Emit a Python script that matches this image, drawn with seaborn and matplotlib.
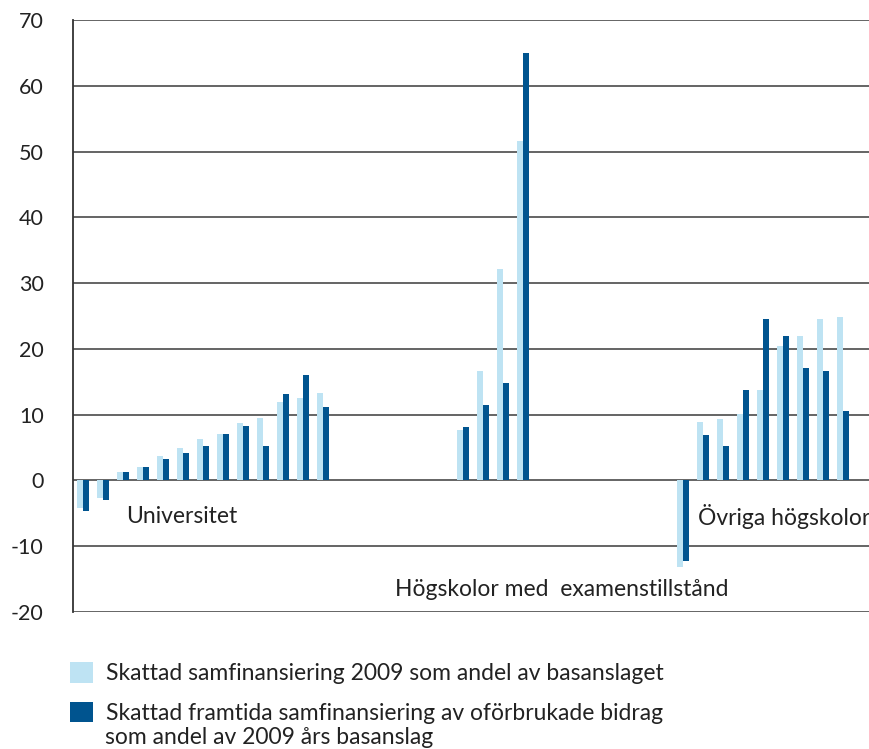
import pandas as pd
import matplotlib.pyplot as plt
import seaborn as sns

# Values (percent)
univ_light = [-4.2, -2.6, 1.25, 2.0, 3.75, 5.0, 6.25, 7.0, 8.75, 9.5, 12.0, 12.5, 13.3]
univ_dark = [-4.6, -2.9, 1.25, 2.0, 3.3, 4.1, 5.3, 7.0, 8.3, 5.3, 13.1, 16.0, 11.2]
hogsk_light = [7.7, 16.7, 32.2, 51.6]
hogsk_dark = [8.2, 11.4, 14.8, 65.0]
ovriga_light = [-13.1, 8.9, 9.3, 10.1, 13.8, 20.4, 22.0, 24.5, 24.8]
ovriga_dark = [-12.3, 6.9, 5.2, 13.8, 24.5, 22.0, 17.1, 16.7, 10.6]

series_names = ["Skattad samfinansiering 2009 som andel av basanslaget",
                "Skattad framtida samfinansiering av oförbrukade bidrag"]
colors = ["#BEE3F3", "#00548F"]

univ_cats = [f"U{i}" for i in range(1, 14)]
hogsk_cats = [f"H{i}" for i in range(1, 5)]
ovriga_cats = [f"O{i}" for i in range(1, 10)]
# empty slots between the groups
order = (univ_cats + [f"_a{i}" for i in range(6)] + hogsk_cats
         + [f"_b{i}" for i in range(7)] + ovriga_cats)

rows = []
for cats, light, dark in [(univ_cats, univ_light, univ_dark),
                          (hogsk_cats, hogsk_light, hogsk_dark),
                          (ovriga_cats, ovriga_light, ovriga_dark)]:
    for c, l, d in zip(cats, light, dark):
        rows.append((c, series_names[0], l))
        rows.append((c, series_names[1], d))
df = pd.DataFrame(rows, columns=["kategori", "serie", "varde"])

sns.set_style("white")
plt.rcParams['font.family'] = ['Lato', 'DejaVu Sans']
plt.rcParams['axes.unicode_minus'] = False

FS = 16.5
TXT = "#222222"

fig = plt.figure(figsize=(8.69, 7.49), dpi=100)
ax = fig.add_axes([73 / 869, 1 - 612 / 749, 1 - 73 / 869, (612 - 20) / 749])

sns.barplot(data=df, x="kategori", y="varde", hue="serie", order=order,
            hue_order=series_names, palette=colors, width=0.62, saturation=1,
            errorbar=None, linewidth=0, ax=ax)

ax.set_ylim(-20, 70)
ax.set_xlim(-0.5, 39.3)
ax.set_yticks(range(-20, 80, 10))
ax.set_xticks([])
ax.set_xlabel("")
ax.set_ylabel("")
ax.set_axisbelow(True)
ax.grid(axis="y", color="#4a4a4a", linewidth=1.2)
for s in ["top", "right", "bottom"]:
    ax.spines[s].set_visible(False)
ax.spines["left"].set_color("#333333")
ax.spines["left"].set_linewidth(1.3)
ax.tick_params(axis="y", length=6, width=1.2, color="#4a4a4a", pad=15,
               labelsize=15.5, labelcolor=TXT)

ax.text(2.15, -5.5, "Universitet", fontsize=FS, color=TXT, va="center")
ax.text(15.6, -16.6, "Högskolor med  examenstillstånd", fontsize=FS,
        color=TXT, va="center")
ax.text(30.75, -5.5, "Övriga högskolor", fontsize=FS, color=TXT,
        va="center", clip_on=False)

handles, labels = ax.get_legend_handles_labels()
ax.legend_.remove()
leg = fig.legend(handles, labels, loc="upper left",
                 bbox_to_anchor=(70 / 869, 1 - 662 / 749), frameon=False,
                 fontsize=FS, handlelength=1.0, handleheight=1.0,
                 handletextpad=0.55, labelspacing=0.78, borderaxespad=0,
                 borderpad=0)
for t in leg.get_texts():
    t.set_color(TXT)
fig.text(105 / 869, 1 - 738 / 749, "som andel av 2009 års basanslag",
         fontsize=FS, color=TXT, va="center")

fig.savefig("out.png", dpi=100)
